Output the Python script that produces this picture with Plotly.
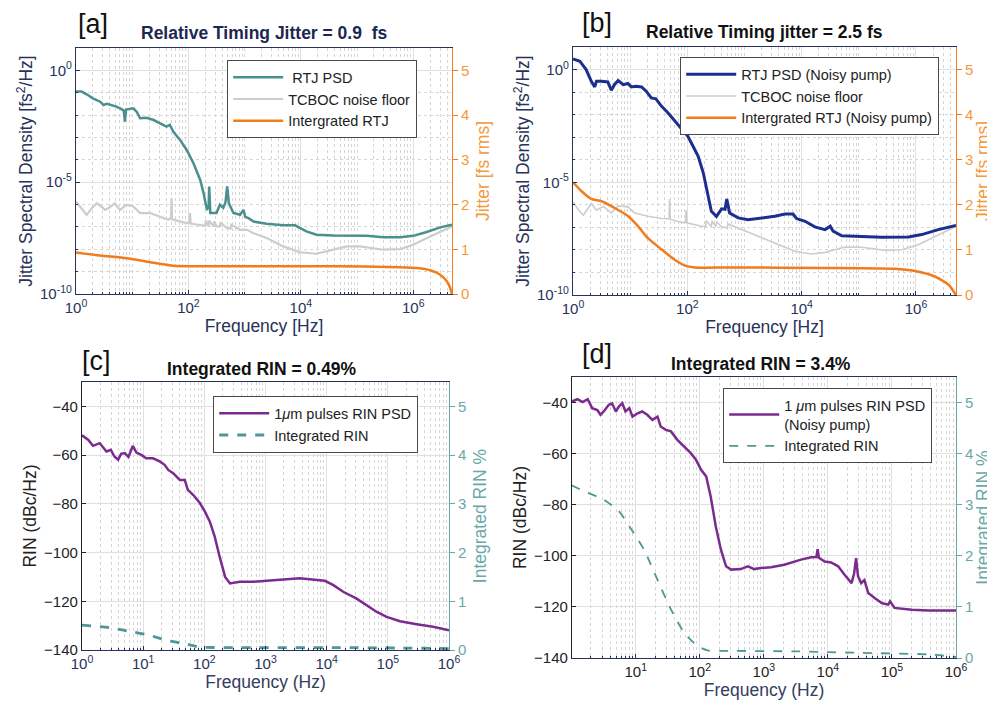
import numpy as np
import plotly.graph_objects as go

# ---------------- Panel a data (log10 frequency [Hz], log10 PSD [fs^2/Hz]) ----------------
a_rtj_logf = [0, 0.10, 0.19, 0.30, 0.43, 0.49, 0.55, 0.72, 0.80, 0.85, 0.87, 0.89, 1.02, 1.08, 1.14, 1.26,
              1.38, 1.49, 1.61, 1.67, 1.73, 1.85, 1.97, 2.09, 2.21, 2.27, 2.33, 2.36, 2.37, 2.39, 2.50,
              2.56, 2.62, 2.66, 2.69, 2.72, 2.80, 2.92, 2.98, 3.01, 3.07, 3.16, 3.39, 3.69, 3.90, 3.99,
              4.10, 4.28, 4.58, 5.17, 5.47, 5.77, 6.00, 6.24, 6.48, 6.69]
a_rtj_psd = [-0.95, -0.95, -1.07, -1.25, -1.40, -1.55, -1.50, -1.62, -1.72, -1.80, -2.29, -1.75, -1.70, -1.85,
             -2.14, -2.12, -2.22, -2.37, -2.51, -2.44, -2.74, -3.11, -3.56, -4.15, -4.90, -5.49, -6.24,
             -6.10, -5.19, -6.38, -6.38, -6.01, -6.15, -5.90, -5.19, -5.94, -6.38, -6.46, -6.24, -6.55,
             -6.61, -6.76, -6.86, -6.93, -6.93, -7.05, -7.20, -7.35, -7.38, -7.40, -7.46, -7.46, -7.40,
             -7.23, -7.02, -6.90]

a_floor_logf = [0, 0.10, 0.19, 0.28, 0.37, 0.45, 0.52, 0.60, 0.69, 0.78, 0.90, 1.02, 1.14, 1.32, 1.49, 1.64,
                1.69, 1.70, 1.71, 1.85, 1.97, 2.02, 2.03, 2.04, 2.21, 2.30, 2.31, 2.36, 2.37, 2.45, 2.46,
                2.50, 2.56, 2.57, 2.68, 2.75, 2.76, 2.92, 3.04, 3.16, 3.39, 3.69, 3.99, 4.28, 4.52, 4.82,
                5.05, 5.47, 5.77, 6.00, 6.30, 6.69]
a_floor_psd = [-5.86, -6.16, -6.46, -6.16, -5.94, -6.09, -6.24, -6.12, -5.94, -6.24, -6.01, -6.09, -6.38,
               -6.38, -6.53, -6.68, -6.60, -5.71, -6.66, -6.76, -6.83, -6.80, -6.38, -6.85, -6.90, -6.95,
               -6.70, -6.98, -6.72, -6.98, -6.75, -6.98, -6.98, -6.80, -7.05, -7.08, -6.90, -7.13, -7.13,
               -7.28, -7.50, -7.87, -8.14, -8.20, -8.05, -7.87, -7.87, -8.02, -7.99, -7.80, -7.43, -6.98]

a_int_logf = [0, 0.43, 0.90, 1.32, 1.73, 1.97, 2.80, 4.58, 5.77, 6.07, 6.30, 6.48, 6.60, 6.66, 6.69]
a_int_jit = [0.93, 0.86, 0.80, 0.71, 0.63, 0.62, 0.62, 0.62, 0.60, 0.58, 0.53, 0.43, 0.28, 0.13, 0.0]

# ---------------- Panel b data ----------------
b_rtj_logf = [0, 0.12, 0.23, 0.32, 0.38, 0.41, 0.50, 0.61, 0.67, 0.73, 0.79, 0.88, 0.96, 1.02, 1.10, 1.20,
              1.28, 1.37, 1.45, 1.55, 1.66, 1.78, 1.90, 2.01, 2.10, 2.19, 2.28, 2.36, 2.42, 2.51, 2.60,
              2.66, 2.69, 2.74, 2.89, 3.06, 3.30, 3.53, 3.71, 3.85, 3.91, 4.06, 4.23, 4.41, 4.50, 4.55,
              4.70, 5.05, 5.40, 5.87, 6.10, 6.39, 6.70]
b_rtj_psd = [0.47, 0.37, 0.0, -0.52, -0.77, -0.52, -0.52, -0.55, -0.92, -0.65, -0.49, -0.67, -0.62, -0.77,
             -0.74, -0.77, -0.96, -1.26, -1.30, -1.63, -1.92, -2.29, -2.66, -2.96, -3.40, -3.85, -4.59,
             -5.62, -6.29, -6.51, -6.18, -6.20, -5.74, -6.36, -6.58, -6.66, -6.60, -6.51, -6.41, -6.41,
             -6.61, -6.73, -6.98, -7.10, -6.95, -7.17, -7.37, -7.40, -7.44, -7.43, -7.32, -7.10, -6.92]

b_floor_logf = [0, 0.09, 0.18, 0.26, 0.32, 0.41, 0.53, 0.67, 0.79, 0.96, 1.08, 1.31, 1.55, 1.68, 1.69, 1.70,
                1.90, 1.97, 1.98, 1.99, 2.25, 2.32, 2.33, 2.42, 2.43, 2.50, 2.51, 2.60, 2.70, 2.71, 2.95,
                3.18, 3.59, 3.88, 4.17, 4.41, 4.76, 5.05, 5.46, 5.75, 6.04, 6.39, 6.70]
b_floor_psd = [-5.87, -6.21, -6.46, -6.14, -5.95, -6.24, -6.07, -6.36, -6.04, -6.09, -6.36, -6.51, -6.61,
               -6.62, -5.74, -6.64, -6.78, -6.78, -6.24, -6.80, -6.95, -6.95, -6.70, -6.97, -6.72, -6.97,
               -6.75, -6.98, -7.02, -6.85, -7.10, -7.32, -7.77, -8.06, -8.18, -8.11, -7.87, -7.88, -8.02,
               -7.99, -7.77, -7.32, -6.95]

b_int_logf = [0, 0.15, 0.32, 0.50, 0.73, 0.96, 1.14, 1.31, 1.55, 1.78, 1.96, 2.13, 2.71, 4.47, 5.63, 5.98,
              6.33, 6.57, 6.70]
b_int_jit = [2.50, 2.30, 2.13, 2.08, 1.93, 1.75, 1.52, 1.26, 1.01, 0.78, 0.65, 0.61, 0.61, 0.60, 0.58,
             0.53, 0.41, 0.23, 0.0]

# ---------------- Panel c data (log10 frequency [Hz], RIN [dBc/Hz], integrated RIN [%]) ----------------
c_rin_logf = [0, 0.10, 0.18, 0.29, 0.40, 0.47, 0.53, 0.59, 0.64, 0.70, 0.76, 0.83, 0.89, 0.97, 1.05, 1.16,
              1.27, 1.35, 1.41, 1.49, 1.60, 1.68, 1.73, 1.82, 1.93, 2.01, 2.09, 2.17, 2.25, 2.34, 2.42,
              2.58, 2.80, 3.02, 3.29, 3.56, 3.84, 3.97, 4.11, 4.27, 4.49, 4.65, 4.82, 4.98, 5.20, 5.47,
              5.74, 6.00]
c_rin_db = [-51.9, -53.7, -56.2, -55.1, -58.5, -57.8, -60.6, -61.9, -59.5, -59.2, -60.8, -56.2, -59.0,
            -59.9, -61.3, -61.3, -62.6, -64.0, -66.1, -67.4, -70.2, -70.2, -74.3, -76.4, -79.8, -83.2,
            -87.3, -93.5, -101.7, -110.0, -112.7, -112.0, -112.0, -111.7, -111.1, -110.6, -111.1,
            -111.6, -113.4, -116.1, -118.9, -121.6, -124.4, -126.4, -128.2, -129.4, -130.5, -131.9]

c_int_logf = [0, 0.45, 0.83, 1.11, 1.38, 1.71, 1.93, 2.47, 4.11, 5.20, 6.00]
c_int_pct = [0.51, 0.46, 0.37, 0.30, 0.20, 0.12, 0.06, 0.05, 0.05, 0.04, 0.03]

# ---------------- Panel d data ----------------
d_rin_logf = [0, 0.09, 0.17, 0.25, 0.32, 0.40, 0.45, 0.50, 0.58, 0.63, 0.69, 0.74, 0.79, 0.84, 0.90, 0.95,
              1.03, 1.10, 1.18, 1.26, 1.34, 1.39, 1.47, 1.55, 1.65, 1.76, 1.86, 1.94, 2.02, 2.10, 2.17,
              2.25, 2.33, 2.41, 2.49, 2.64, 2.75, 2.85, 2.95, 3.11, 3.32, 3.58, 3.74, 3.82, 3.84, 3.86,
              3.95, 4.05, 4.16, 4.26, 4.37, 4.41, 4.44, 4.47, 4.52, 4.57, 4.63, 4.73, 4.84, 4.94, 4.97,
              5.04, 5.31, 5.57, 6.00]
d_rin_db = [-39.6, -38.7, -39.8, -38.7, -42.2, -42.9, -44.8, -43.5, -40.9, -40.3, -43.5, -41.5, -40.3,
            -43.5, -42.2, -45.5, -44.2, -43.5, -44.8, -46.8, -45.5, -49.4, -50.7, -51.3, -54.6, -57.2,
            -59.8, -62.4, -66.3, -68.9, -76.8, -88.5, -97.6, -104.1, -105.4, -105.2, -104.1, -105.2,
            -104.8, -104.5, -103.5, -101.5, -100.6, -100.5, -97.4, -100.8, -102.2, -102.6, -104.1, -107.4,
            -110.7, -106.8, -100.9, -108.0, -110.7, -109.5, -114.6, -116.5, -118.5, -119.1, -117.8,
            -120.4, -121.1, -121.4, -121.4]

d_int_logf = [0, 0.20, 0.50, 0.74, 0.92, 1.13, 1.34, 1.55, 1.76, 1.97, 2.12, 2.44, 3.48, 4.52, 5.57, 6.00]
d_int_pct = [3.38, 3.26, 3.10, 2.87, 2.54, 2.12, 1.53, 0.95, 0.49, 0.23, 0.15, 0.14, 0.13, 0.10, 0.07, 0.02]

# ---------------- Tick labels ----------------
ab_xtick_vals = [1, 1e2, 1e4, 1e6]
ab_xtick_text = ["10<sup>0</sup>", "10<sup>2</sup>", "10<sup>4</sup>", "10<sup>6</sup>"]
ab_ytick_vals = [1e-10, 1e-5, 1]
ab_ytick_text = ["10<sup>-10</sup>", "10<sup>-5</sup>", "10<sup>0</sup>"]
c_xtick_vals = [1, 1e1, 1e2, 1e3, 1e4, 1e5, 1e6]
c_xtick_text = ["10<sup>0</sup>", "10<sup>1</sup>", "10<sup>2</sup>", "10<sup>3</sup>",
                "10<sup>4</sup>", "10<sup>5</sup>", "10<sup>6</sup>"]
d_xtick_vals = c_xtick_vals[1:]
d_xtick_text = c_xtick_text[1:]
rin_ytick_vals = [-140, -120, -100, -80, -60, -40]
right_tick_vals = [0, 1, 2, 3, 4, 5]

# ---------------- Styling ----------------
FONT = "Liberation Sans, Arial, sans-serif"
NAVY = "#26325a"
DARK = "#222222"
ORANGE = "#f07c1c"
ORANGE_T = "#f39a3c"
TEAL = "#4b8f8f"
TEAL_D = "#4f9696"
TEAL_T = "#6aa8a8"
GRAY = "#cdcdcd"
BLUE = "#1b2f8f"
PURPLE = "#7b2b8e"
GRID = "#e0e0e0"
MINOR = "#d6d6d6"

# page body has an 8px margin: figure is drawn 8px in from the window's corner
OFF = 8
W, H = 995 - OFF, 713 - OFF


def px(p):
    return (p - OFF) / W


def py(p):
    return 1 - (p - OFF) / H


def hz(lf):
    return 10 ** np.array(lf, dtype=float)


def lin(lv):
    return 10 ** np.array(lv, dtype=float)


fig = go.Figure()

# Panel a
fig.add_trace(go.Scatter(x=hz(a_floor_logf), y=lin(a_floor_psd), mode="lines", name="TCBOC noise floor",
                         line=dict(color=GRAY, width=2.2), xaxis="x", yaxis="y", legend="legend", legendrank=2))
fig.add_trace(go.Scatter(x=hz(a_rtj_logf), y=lin(a_rtj_psd), mode="lines", name=" RTJ PSD",
                         line=dict(color=TEAL, width=2.5), xaxis="x", yaxis="y", legend="legend", legendrank=1))
fig.add_trace(go.Scatter(x=hz(a_int_logf), y=a_int_jit, mode="lines", name="Intergrated RTJ",
                         line=dict(color=ORANGE, width=2.5, shape="spline", smoothing=0.6),
                         xaxis="x", yaxis="y2", legend="legend", legendrank=3))
# Panel b
fig.add_trace(go.Scatter(x=hz(b_floor_logf), y=lin(b_floor_psd), mode="lines", name="TCBOC noise floor",
                         line=dict(color=GRAY, width=1.6), xaxis="x2", yaxis="y3", legend="legend2", legendrank=2))
fig.add_trace(go.Scatter(x=hz(b_rtj_logf), y=lin(b_rtj_psd), mode="lines", name="RTJ PSD (Noisy pump)",
                         line=dict(color=BLUE, width=3), xaxis="x2", yaxis="y3", legend="legend2", legendrank=1))
fig.add_trace(go.Scatter(x=hz(b_int_logf), y=b_int_jit, mode="lines", name="Intergrated RTJ (Noisy pump)",
                         line=dict(color=ORANGE, width=2.5, shape="spline", smoothing=0.6),
                         xaxis="x2", yaxis="y4", legend="legend2", legendrank=3))
# Panel c
fig.add_trace(go.Scatter(x=hz(c_rin_logf), y=c_rin_db, mode="lines", name="1<i>μ</i>m pulses RIN PSD",
                         line=dict(color=PURPLE, width=2.5), xaxis="x3", yaxis="y5", legend="legend3"))
fig.add_trace(go.Scatter(x=hz(c_int_logf), y=c_int_pct, mode="lines", name="Integrated RIN",
                         line=dict(color=TEAL_D, width=2.8, dash="dash", shape="spline", smoothing=0.6),
                         xaxis="x3", yaxis="y6", legend="legend3"))
# Panel d
fig.add_trace(go.Scatter(x=hz(d_rin_logf), y=d_rin_db, mode="lines", name="1 <i>μ</i>m pulses RIN PSD<br>(Noisy pump)",
                         line=dict(color=PURPLE, width=2.5), xaxis="x4", yaxis="y7", legend="legend4"))
fig.add_trace(go.Scatter(x=hz(d_int_logf), y=d_int_pct, mode="lines", name="Integrated RIN",
                         line=dict(color=TEAL_D, width=1.8, dash="dash", shape="spline", smoothing=0.6),
                         xaxis="x4", yaxis="y8", legend="legend4"))

TICK = 15
ATITLE = 17.5


def xax(domain, anchor, rng, tv, tt, title, col, tcol):
    return dict(domain=domain, anchor=anchor, type="log", range=rng, tickmode="array", tickvals=tv,
                ticktext=tt, tickfont=dict(size=TICK, color=tcol, family=FONT), automargin=False,
                title=dict(text=title, font=dict(size=ATITLE, color=col, family=FONT), standoff=4),
                showline=True, linecolor=NAVY, linewidth=1.2, mirror=True, ticks="inside", ticklen=4,
                tickcolor=NAVY, showgrid=True, gridcolor=GRID, gridwidth=1, zeroline=False,
                minor=dict(dtick="D1", showgrid=True, gridcolor=MINOR, griddash="dot", gridwidth=1,
                           ticks="inside", ticklen=2, tickcolor=NAVY))


def yleft_log(domain, anchor, title, col):
    return dict(domain=domain, anchor=anchor, type="log", range=[-10, 1], tickmode="array",
                tickvals=ab_ytick_vals, ticktext=ab_ytick_text, automargin=False,
                tickfont=dict(size=TICK, color=col, family=FONT),
                title=dict(text=title, font=dict(size=ATITLE, color=col, family=FONT), standoff=2),
                showline=True, linecolor=NAVY, linewidth=1.2, ticks="inside", ticklen=4, tickcolor=NAVY,
                showgrid=True, gridcolor=GRID, zeroline=False,
                minor=dict(dtick=1, showgrid=True, gridcolor=MINOR, griddash="dot", ticks="inside",
                           ticklen=2, tickcolor=NAVY))


def yleft_lin(domain, anchor, title):
    return dict(domain=domain, anchor=anchor, range=[-140, -30], tickmode="array", automargin=False,
                tickvals=rin_ytick_vals, tickfont=dict(size=TICK, color=DARK, family=FONT),
                title=dict(text=title, font=dict(size=ATITLE, color=DARK, family=FONT), standoff=2),
                showline=True, linecolor=DARK, linewidth=1.2, ticks="inside", ticklen=4, tickcolor=DARK,
                showgrid=True, gridcolor=GRID, zeroline=False)


def yright(overlay, anchor, title, col, tcol, standoff):
    return dict(overlaying=overlay, anchor=anchor, side="right", range=[0, 5.5], tickmode="array",
                tickvals=right_tick_vals, tickfont=dict(size=TICK, color=tcol, family=FONT), automargin=False,
                title=dict(text=title, font=dict(size=ATITLE, color=tcol, family=FONT), standoff=standoff),
                showline=True, linecolor=col, linewidth=1.2, ticks="outside", ticklen=5, tickcolor=col,
                showgrid=False, zeroline=False)


def legend_box(x, y):
    return dict(x=px(x), y=py(y), xanchor="left", yanchor="top", bgcolor="white", bordercolor="#4a4a4a",
                borderwidth=1.2, font=dict(size=14.5, color=DARK, family=FONT), tracegroupgap=0,
                itemclick=False, itemwidth=50)


layout = dict(
    width=W, height=H, margin=dict(l=0, r=0, t=0, b=0, autoexpand=False), paper_bgcolor="white",
    plot_bgcolor="white", font=dict(family=FONT), showlegend=True,
    xaxis=xax([px(76), px(452)], "y", [0, 6.69], ab_xtick_vals, ab_xtick_text, "Frequency [Hz]", NAVY, NAVY),
    yaxis=yleft_log([py(294), py(48)], "x", "Jitter Spectral Density [fs<sup>2</sup>/Hz]", NAVY),
    yaxis2=yright("y", "x", "Jitter [fs rms]", ORANGE, ORANGE_T, 8),
    xaxis2=xax([px(573), px(956)], "y3", [0, 6.70], ab_xtick_vals, ab_xtick_text, "Frequency [Hz]", NAVY, NAVY),
    yaxis3=yleft_log([py(295), py(47)], "x2", "Jitter Spectral Density [fs<sup>2</sup>/Hz]", NAVY),
    yaxis4=yright("y3", "x2", "Jitter [fs rms]", ORANGE, ORANGE_T, 4),
    xaxis3=xax([px(82), px(449)], "y5", [0, 6], c_xtick_vals, c_xtick_text, "Frequency (Hz)", "#333d5e", NAVY),
    yaxis5=yleft_lin([py(650), py(382)], "x3", "RIN (dBc/Hz)"),
    yaxis6=yright("y5", "x3", "Integrated RIN %", TEAL_T, TEAL_T, 8),
    xaxis4=xax([px(572), px(956)], "y7", [0.005, 6], d_xtick_vals, d_xtick_text, "Frequency (Hz)", "#333d5e", DARK),
    yaxis7=yleft_lin([py(658), py(377)], "x4", "RIN (dBc/Hz)"),
    yaxis8=yright("y7", "x4", "Integrated RIN %", TEAL_T, TEAL_T, 4),
    legend=legend_box(227, 60),
    legend2=legend_box(680, 57),
    legend3=legend_box(213, 396),
    legend4=legend_box(723, 388),
)
fig.update_layout(**layout)

# Panel labels and titles (window pixel positions)
labels = [("[a]", 93, 24), ("[b]", 597, 23), ("[c]", 96, 361), ("[d]", 597, 354)]
for txt, x, y in labels:
    fig.add_annotation(text=txt, x=px(x), y=py(y), xref="paper", yref="paper", showarrow=False,
                       font=dict(size=27, color="#111111", family=FONT), xanchor="center", yanchor="middle")

titles = [("<b>Relative Timing Jitter = 0.9  fs</b>", 264, 33, "#1c2850"),
          ("<b>Relative Timing jitter = 2.5 fs</b>", 764, 32, "#111111"),
          ("<b>Integrated RIN = 0.49%</b>", 262, 369, "#111111"),
          ("<b>Integrated RIN = 3.4%</b>", 761, 364, "#111111")]
for txt, x, y, c in titles:
    fig.add_annotation(text=txt, x=px(x), y=py(y), xref="paper", yref="paper", showarrow=False,
                       font=dict(size=17.5, color=c, family=FONT), xanchor="center", yanchor="middle")

fig.write_html("out.html")
